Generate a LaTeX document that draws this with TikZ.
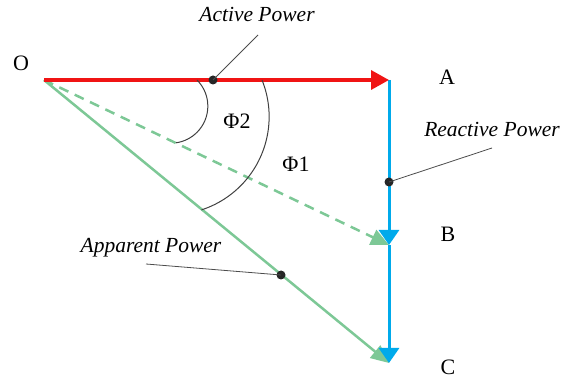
\documentclass[tikz,border=0pt]{standalone}
\usepackage{fontspec}
\setmainfont{Liberation Serif}
\usetikzlibrary{arrows.meta, positioning}

\definecolor{activered}{RGB}{240,20,20}
\definecolor{reactblue}{RGB}{0,170,235}
\definecolor{apparentgreen}{RGB}{125,200,150}

\begin{document}
\begin{tikzpicture}[x=1pt, y=-1pt,
    letter/.style={anchor=base, inner sep=0pt, font=\fontsize{22}{26}\selectfont},
    tag/.style={anchor=base, inner sep=0pt, font=\fontsize{21.5}{26}\selectfont\itshape},
    dot/.style={circle, fill=black!85, inner sep=0pt, minimum size=9pt},
    leader/.style={draw=black!70, line width=0.8pt},
    anglearc/.style={draw=black!75, line width=1pt},
    >=Stealth]
\useasboundingbox (0,0) rectangle (565,379);

% Corner points O A B C
\coordinate (O) at (44,80);
\coordinate (A) at (389,80);
\coordinate (B) at (389,245);
\coordinate (C) at (389,363);
\node[letter] (Olbl) at (21,71) {O};
\node[letter] (Albl) at (447,85) {A};
\node[letter] (Blbl) at (448,242) {B};
\node[letter] (Clbl) at (448,374) {C};

% Apparent power vectors
\draw[apparentgreen, line width=2.5pt, dash pattern=on 10pt off 7pt,
    -{Triangle[length=18pt, width=16pt]}] (O) -- (B);
\draw[apparentgreen, line width=2.5pt,
    -{Triangle[length=18pt, width=16pt]}] (O) -- (C);

% Reactive power vectors
\draw[reactblue, line width=3pt, -{Triangle[length=15pt, width=20pt]}] (A) -- (B);
\draw[reactblue, line width=3pt, -{Triangle[length=15pt, width=20pt]}] (B) -- (C);

% Active power vector
\draw[activered, line width=3.5pt, -{Triangle[length=18pt, width=19pt]}] (O) -- (A);

% Angles
\draw[anglearc] (197,80) arc[start angle=-45, end angle=82, radius=37];
\draw[anglearc] (262,80) arc[start angle=-22, end angle=72, radius=98];
\node[letter] (phitwo) at (237,129) {Φ2};
\node[letter] (phione) at (296,172) {Φ1};

% Labels with leaders
\node[dot] (Pdot) at (213,80) {};
\coordinate (Ptail) at (258,35);
\draw[leader] (Pdot.center) -- (Ptail);
\node[tag] (Ptag) at (257,22) {Active Power};

\node[dot] (Qdot) at (389,182) {};
\coordinate (Qtail) at (492,148);
\draw[leader] (Qdot.center) -- (Qtail);
\node[tag] (Qtag) at (492,137) {Reactive Power};

\node[dot] (Sdot) at (281,275) {};
\coordinate (Stail) at (146,264);
\draw[leader] (Sdot.center) -- (Stail);
\node[tag] (Stag) at (151,253) {Apparent Power};
\end{tikzpicture}
\end{document}
